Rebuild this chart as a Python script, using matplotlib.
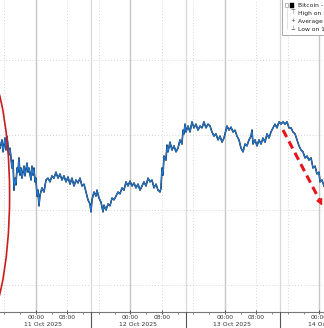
import matplotlib
matplotlib.use("Agg")
import matplotlib.pyplot as plt
import matplotlib.transforms as mtransforms
from matplotlib.patches import Ellipse, Rectangle
from matplotlib.lines import Line2D
from matplotlib.ticker import MultipleLocator

# hours since 11 Oct 2025 00:00, Bitcoin last price (USD)
hours = [
    -9.14, -8.64, -8.38, -7.87, -7.62, -7.37, -6.86, -6.60, -6.10, -5.84,
    -5.59, -5.33, -5.08, -4.83, -4.57, -4.32, -4.06, -3.81, -3.56, -3.05,
    -2.79, -2.29, -2.03, -1.78, -1.27, -1.02, -0.76, -0.51, -0.25, 0.00,
    0.25, 0.51, 0.76, 1.02, 1.52, 2.03, 2.54, 3.05, 3.56, 4.06,
    4.57, 5.08, 5.59, 6.10, 6.60, 7.11, 7.62, 8.13, 8.64, 9.14,
    9.65, 10.16, 10.67, 11.18, 11.68, 12.19, 12.70, 13.21, 13.72, 13.97,
    14.22, 14.73, 15.24, 15.49, 16.00, 16.51, 17.02, 17.27, 17.78, 18.29,
    18.80, 19.30, 19.81, 20.32, 20.83, 21.34, 21.84, 22.35, 22.86, 23.37,
    23.88, 24.38, 24.89, 25.40, 25.91, 26.42, 26.92, 27.43, 27.94, 28.45,
    28.96, 29.46, 29.97, 30.48, 30.99, 31.50, 31.75, 32.00, 32.26, 32.51,
    33.02, 33.27, 33.53, 34.04, 34.54, 35.05, 35.56, 36.07, 36.58, 37.08,
    37.34, 37.59, 37.85, 38.10, 38.61, 39.12, 39.62, 40.13, 40.64, 41.15,
    41.66, 42.16, 42.67, 43.18, 43.69, 44.20, 44.70, 45.21, 45.72, 46.23,
    46.74, 47.24, 47.75, 48.26, 48.51, 49.02, 49.53, 50.04, 50.55, 51.05,
    51.56, 52.07, 52.58, 53.09, 53.59, 54.10, 54.61, 54.86, 55.12, 55.63,
    56.13, 56.64, 57.15, 57.66, 58.17, 58.67, 59.18, 59.69, 60.20, 60.71,
    61.21, 61.72, 62.23, 62.74, 63.25, 63.75, 64.26, 64.77, 65.28, 65.79,
    66.29, 66.80, 67.31, 67.82, 68.33, 68.83, 69.34, 69.85, 70.36, 70.87,
    71.37, 71.88, 72.14, 72.64, 73.15,
]
price = [
    113650, 113870, 113550, 113920, 113600, 113970, 113470, 113650, 113120, 113330,
    112530, 112850, 112670, 113120, 113010, 113390, 112930, 113120, 112850, 113170,
    112910, 113250, 113010, 113120, 112800, 113170, 112930, 113120, 112750, 112850,
    112370, 112530, 112110, 112400, 112590, 112480, 112800, 112850, 112750, 112910,
    112850, 113010, 112850, 112960, 112800, 112910, 112750, 112880, 112690, 112850,
    112640, 112800, 112720, 112850, 112640, 112690, 112480, 112270, 112160, 111950,
    112270, 112480, 112370, 112530, 112320, 112210, 111950, 112130, 112000, 112160,
    112110, 112320, 112270, 112370, 112480, 112430, 112590, 112530, 112750, 112640,
    112770, 112640, 112720, 112590, 112690, 112530, 112640, 112750, 112640, 112850,
    112750, 112800, 112590, 112690, 112530, 112480, 112590, 113120, 112930, 113440,
    113330, 113730, 113550, 113810, 113600, 113710, 113550, 113650, 113870, 113760,
    114130, 114030, 114290, 114080, 114240, 114080, 114350, 114190, 114290, 114130,
    114240, 114190, 114350, 114190, 114290, 114240, 114080, 113970, 114030, 113870,
    113970, 113810, 113920, 114130, 114240, 114130, 114210, 114080, 114130, 113970,
    113870, 113650, 113550, 113760, 113710, 113870, 113970, 114130, 113760, 113870,
    113710, 113870, 113760, 113920, 113810, 114030, 113920, 114080, 114190, 114290,
    114190, 114350, 114290, 114350, 114290, 114350, 114190, 114190, 114080, 114030,
    113870, 113710, 113600, 113550, 113390, 113440, 113330, 113390, 113120, 113170,
    112960, 113010, 112750, 112800, 112640,
]

grid_prices = [110000, 112000, 114000, 116000]
midnight_hours = [0, 24, 48, 72]
dotted_hours = [-8, 8, 16, 32, 40, 56, 64]
session_hours = [14, 38, 62]
tick_hours = [0, 8, 24, 32, 48, 56, 72]
tick_labels = ["00:00", "08:00", "00:00", "08:00", "00:00", "08:00", "00:00"]
date_labels = ["11 Oct 2025", "12 Oct 2025", "13 Oct 2025", "14 Oct 2025"]
legend_labels = ["Bitcoin - Last Price (BTC)", "High on 10/13/25  115,900",
                 "Average  113,500", "Low on 10/11/25  109,800"]

W, H = 324, 328
fig = plt.figure(figsize=(W / 100, H / 100), dpi=100)
ax = fig.add_axes([0, 16 / H, 1, 1 - 16 / H])
ax.set_xlim(-9.14, 73.15)
ax.set_ylim(109280, 117600)

# ── grid ──────────────────────────────────────────────────────────────────
for p in grid_prices:
    ax.axhline(p, color="#c8c8c8", lw=0.6, ls=(0, (1, 2.5)), zorder=1)
for h in dotted_hours:
    ax.axvline(h, color="#c8c8c8", lw=0.6, ls=(0, (1, 2.5)), zorder=1)
for h in midnight_hours:
    ax.axvline(h, color="#c6c6c6", lw=1.0, zorder=1)
blend = mtransforms.blended_transform_factory(ax.transData, fig.transFigure)
for h in session_hours:
    ax.axvline(h, color="#d8d8d8", lw=0.9, zorder=1)
    fig.add_artist(Line2D([h, h], [0, 16 / H], transform=blend, color="#555555", lw=0.8))

# ── price line ────────────────────────────────────────────────────────────
ax.plot(hours, price, color="#111111", lw=1.1, zorder=3)
ax.plot(hours, price, color="#1f7ad8", lw=0.8, zorder=4)

# ── annotations ───────────────────────────────────────────────────────────
ax.add_patch(Ellipse((-14.2, 112400), 15.0, 7090, fill=False, ec="#c81e1e", lw=1.2, zorder=5))
ax.plot([62.74, 71.9], [114133, 112290], color="#e8141c", lw=2.2,
        ls=(0, (2.6, 1.6)), zorder=6, solid_capstyle="butt")
ax.annotate("", xy=(73.0, 112050), xytext=(71.6, 112350),
            arrowprops=dict(arrowstyle="-|>", color="#e8141c", lw=1.0, mutation_scale=9),
            zorder=6)

# ── axes ──────────────────────────────────────────────────────────────────
for s in ["left", "top", "right"]:
    ax.spines[s].set_visible(False)
ax.spines["bottom"].set_color("#777777")
ax.spines["bottom"].set_linewidth(0.8)
ax.set_yticks([])
ax.set_xticks(tick_hours)
ax.set_xticklabels(tick_labels, fontsize=4.3, color="#333333")
ax.xaxis.set_minor_locator(MultipleLocator(4))
ax.tick_params(axis="x", which="major", direction="inout", length=2.5, width=0.6,
               color="#333333", pad=0.8)
ax.tick_params(axis="x", which="minor", direction="out", length=1.2, width=0.5, color="#555555")

for i, lab in enumerate(date_labels):
    fig.text(24 * i + 1.8, (H - 324.5) / H, lab, transform=blend, fontsize=4.4,
             color="#333333", ha="center", va="center")

# ── legend box (cropped at the right edge) ───────────────────────────────
def fx(px):
    return px / W


def fy(py):
    return 1 - py / H


fig.add_artist(Rectangle((fx(282), fy(35)), fx(60), 40 / H, transform=fig.transFigure,
                         fc="white", ec="#9a9a9a", lw=0.6, zorder=10))
fig.add_artist(Line2D([fx(287), fx(287)], [fy(7), fy(29)], transform=fig.transFigure,
                      color="#999999", lw=0.4, ls=(0, (1, 1)), zorder=11))
fig.add_artist(Rectangle((fx(285), fy(6.5)), fx(3), 3 / H, transform=fig.transFigure,
                         fc="white", ec="#888888", lw=0.4, zorder=11))
fig.add_artist(Rectangle((fx(289.7), fy(7.5)), fx(4.6), 4.6 / H, transform=fig.transFigure,
                         fc="black", ec="black", lw=0.3, zorder=11))
markers = ["", "\u22a4", "+", "\u22a5"]
for i, lab in enumerate(legend_labels):
    py = 5 + 8 * i
    if markers[i]:
        fig.text(fx(292.5), fy(py), markers[i], fontsize=4.0, color="#444444",
                 ha="center", va="center", zorder=12)
    fig.text(fx(298), fy(py), lab, fontsize=4.3, color="#222222",
             ha="left", va="center", zorder=12)

fig.savefig("out.png", dpi=100)
